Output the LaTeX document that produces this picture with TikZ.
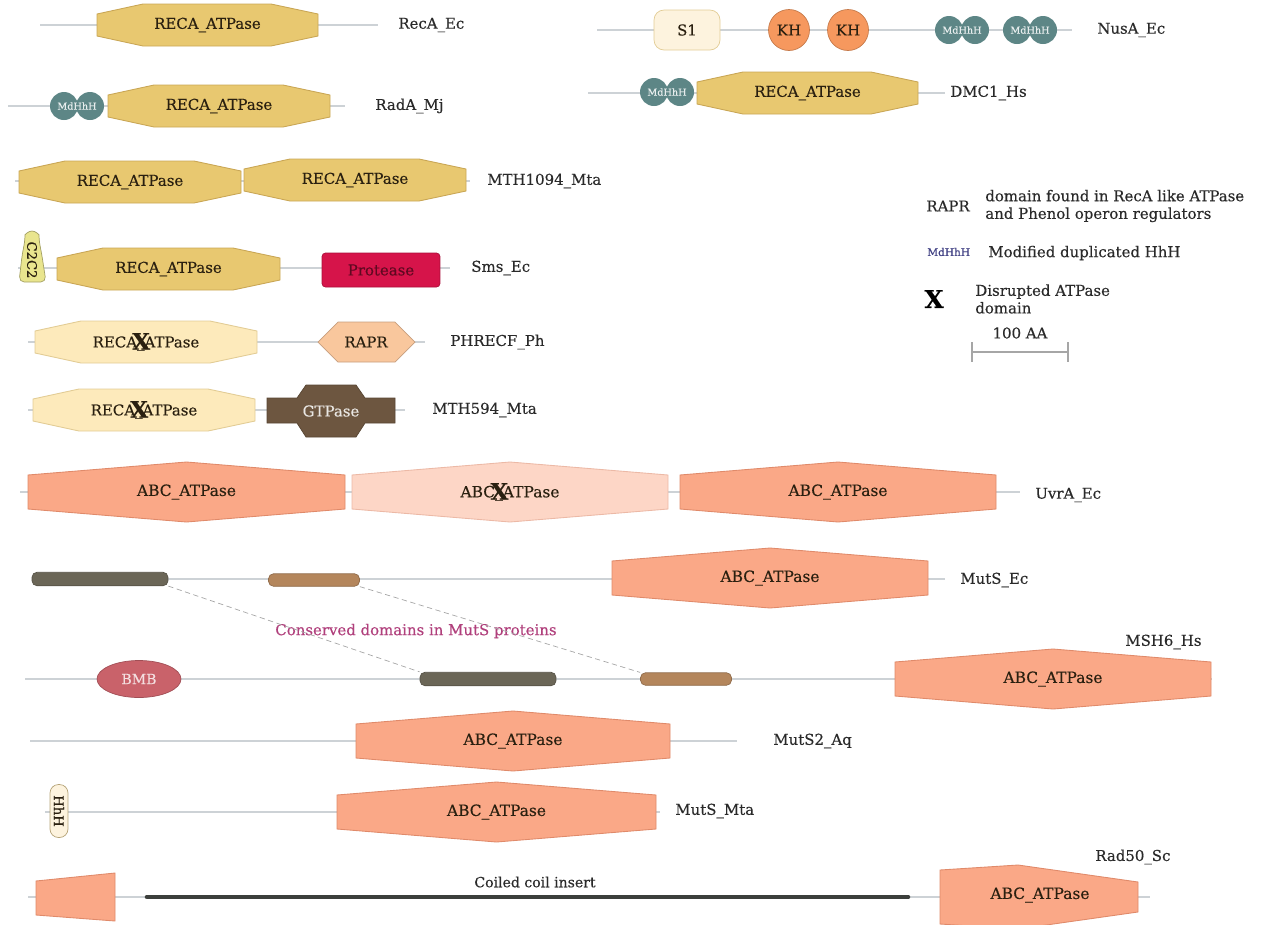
\documentclass[tikz,border=0pt]{standalone}
\usepackage{fontspec}
\setmainfont{DejaVu Serif}[FakeBold=0.35]
\usetikzlibrary{positioning,shapes.geometric}
\definecolor{bbgray}{HTML}{CDD2D6}
\definecolor{txtgray}{HTML}{2A2A2A}
\definecolor{domtext}{HTML}{2A2010}
\definecolor{recafill}{HTML}{E8C870}
\definecolor{recaedge}{HTML}{C9A655}
\definecolor{recalight}{HTML}{FDEABB}
\definecolor{recalightedge}{HTML}{E2CC95}
\definecolor{abcfill}{HTML}{FAA887}
\definecolor{abcedge}{HTML}{E08A6A}
\definecolor{abclight}{HTML}{FDD6C6}
\definecolor{mdteal}{HTML}{5D8686}
\definecolor{khorange}{HTML}{F6985E}
\definecolor{creambox}{HTML}{FDF3DE}
\definecolor{protred}{HTML}{D6144A}
\definecolor{raprfill}{HTML}{F9C79D}
\definecolor{gtpbrown}{HTML}{6D5640}
\definecolor{bardark}{HTML}{6B6657}
\definecolor{bartan}{HTML}{B4865C}
\definecolor{bmbred}{HTML}{C9626A}
\definecolor{c2yellow}{HTML}{E9E58E}
\definecolor{consmag}{HTML}{B0407C}
\definecolor{coildark}{HTML}{3C3F3C}

\tikzset{
  backbone/.style={draw=bbgray, line width=1pt},
  pname/.style={anchor=west, inner sep=0pt, text=txtgray, font=\fontsize{8.5}{10}\selectfont},
  dtext/.style={inner sep=0pt, text=domtext, font=\fontsize{8.5}{10}\selectfont},
  abctext/.style={inner sep=0pt, text=domtext, font=\fontsize{8.8}{10}\selectfont},
  reca/.style={fill=recafill, draw=recaedge, line width=0.5pt},
  recadis/.style={fill=recalight, draw=recalightedge, line width=0.5pt},
  abc/.style={fill=abcfill, draw=abcedge, line width=0.5pt},
  abcdis/.style={fill=abclight, draw=abcedge!60, line width=0.5pt},
  mdtext/.style={inner sep=0pt, text=white!85!mdteal, font=\fontsize{5.5}{6}\selectfont},
  darkbar/.style={fill=bardark, draw=bardark!80!black, rounded corners=0.1cm, minimum height=0.27cm, inner sep=0pt},
  tanbar/.style={fill=bartan, draw=bartan!80!black, rounded corners=0.1cm, minimum height=0.25cm, inner sep=0pt},
  consline/.style={draw=gray!70, densely dashed, line width=0.4pt}
}

% RecA-like octagon: name, x1, x2, y, style, text
\newcommand{\recadom}[6]{%
  \draw[#5] (#2,#4-11) -- (#2+46,#4-21) -- (#3-47,#4-21) -- (#3,#4-11)
    -- (#3,#4+11) -- (#3-47,#4+21) -- (#2+46,#4+21) -- (#2,#4+11) -- cycle;
  \node[dtext] (#1) at ({(#2+#3)/2},#4) {#6};}
% ABC hexagon: name, x1, x2, y, style, text
\newcommand{\abcdom}[6]{%
  \draw[#5] (#2,#4-17) -- ({(#2+#3)/2},#4-30) -- (#3,#4-17)
    -- (#3,#4+17) -- ({(#2+#3)/2},#4+30) -- (#2,#4+17) -- cycle;
  \node[abctext] (#1) at ({(#2+#3)/2},#4) {#6};}
% double circle MdHhH: name, x, y
\newcommand{\mdhhh}[3]{%
  \fill[mdteal] (#2-13,#3) circle[radius=14] (#2+13,#3) circle[radius=14];
  \node[mdtext] (#1) at (#2,#3) {MdHhH};}
% disrupted domain text
\newcommand{\disrupt}[2]{#1\_\llap{\makebox[0.45em][c]{\raisebox{-0.3ex}{\fontsize{13}{13}\selectfont\bfseries X}}}#2}

\begin{document}
\begin{tikzpicture}[x=0.02cm, y=-0.02cm]
\useasboundingbox (0,0) rectangle (1261,924);
\clip (0,0) rectangle (1261,924);

% RecA_Ec
\draw[backbone] (40,25) -- (378,25);
\recadom{recaec}{97}{318}{25}{reca}{RECA\_ATPase}
\node[pname] (lrecaec) at (398,25) {RecA\_Ec};

% RadA_Mj
\draw[backbone] (8,106) -- (345,106);
\mdhhh{radmd}{77}{106}
\recadom{radreca}{108}{330}{106}{reca}{RECA\_ATPase}
\node[pname] (lradamj) at (375,106) {RadA\_Mj};

% MTH1094_Mta
\draw[backbone] (15,181) -- (470,181);
\recadom{mthrecaA}{19}{241}{182}{reca}{RECA\_ATPase}
\recadom{mthrecaB}{244}{466}{180}{reca}{RECA\_ATPase}
\node[pname] (lmth1094) at (487,181) {MTH1094\_Mta};

% Sms_Ec
\draw[backbone] (18,268) -- (450,268);
\filldraw[fill=c2yellow, draw=c2yellow!70!black, line width=0.4pt, rounded corners=3pt]
  (19,282) -- (22,256) -- (25,240) arc[start angle=180, end angle=360, x radius=7, y radius=9] -- (42,256) -- (46,282) -- cycle;
\node[dtext, rotate=-90, font=\fontsize{7.5}{8}\selectfont] (c2c2) at (32,260) {C2C2};
\recadom{smsreca}{57}{280}{269}{reca}{RECA\_ATPase}
\node[fill=protred, draw=protred!80!black, rounded corners=2pt, minimum width=2.36cm, minimum height=0.68cm,
  text=protred!45!black, font=\fontsize{8.5}{10}\selectfont] (protease) at (381,270) {Protease};
\node[pname] (lsmsec) at (471,268) {Sms\_Ec};

% PHRECF_Ph
\draw[backbone] (28,342) -- (425,342);
\recadom{phreca}{35}{257}{342}{recadis}{\disrupt{RECA}{ATPase}}
\draw[fill=raprfill, draw=raprfill!80!black, line width=0.4pt]
  (318,342) -- (338,322) -- (395,322) -- (415,342) -- (395,362) -- (338,362) -- cycle;
\node[dtext] (rapr) at (366,342) {RAPR};
\node[pname] (lphrecf) at (450,342) {PHRECF\_Ph};

% MTH594_Mta
\draw[backbone] (28,410) -- (405,410);
\recadom{mth594reca}{33}{255}{410}{recadis}{\disrupt{RECA}{ATPase}}
\draw[fill=gtpbrown, draw=gtpbrown!80!black, line width=0.4pt]
  (267,398) -- (297,398) -- (306,385) -- (356,385) -- (365,398) -- (395,398)
  -- (395,423) -- (365,423) -- (356,437) -- (306,437) -- (297,423) -- (267,423) -- cycle;
\node[dtext, text=white!85!gtpbrown] (gtpase) at (331,411) {GTPase};
\node[pname] (lmth594) at (432,410) {MTH594\_Mta};

% NusA_Ec
\draw[backbone] (597,30) -- (1072,30);
\node[fill=creambox, draw=recalightedge, rounded corners=0.2cm, minimum width=1.32cm, minimum height=0.8cm,
  text=domtext, font=\fontsize{8.5}{10}\selectfont] (sone) at (687,30) {S1};
\node[circle, fill=khorange, draw=khorange!80!black, minimum size=0.82cm, inner sep=0pt,
  text=domtext, font=\fontsize{8.5}{10}\selectfont] (khA) at (789,30) {KH};
\node[circle, fill=khorange, draw=khorange!80!black, minimum size=0.82cm, inner sep=0pt,
  text=domtext, font=\fontsize{8.5}{10}\selectfont] (khB) at (848,30) {KH};
\mdhhh{nusmdA}{962}{30}
\mdhhh{nusmdB}{1030}{30}
\node[pname] (lnusaec) at (1097,30) {NusA\_Ec};

% DMC1_Hs
\draw[backbone] (588,93) -- (945,93);
\mdhhh{dmcmd}{667}{92}
\recadom{dmcreca}{697}{918}{93}{reca}{RECA\_ATPase}
\node[pname] (ldmc1) at (950,93) {DMC1\_Hs};

% legend
\node[dtext, anchor=west, text=txtgray] (legrapr) at (926,206) {RAPR};
\node[pname, align=left, anchor=west] (legraprtxt) at (985,206) {domain found in RecA like ATPase\\and Phenol operon regulators};
\node[inner sep=0pt, anchor=west, text=blue!35!black!75, font=\fontsize{6}{7}\selectfont] (legmd) at (927,252) {MdHhH};
\node[pname] (legmdtxt) at (988,253) {Modified duplicated HhH};
\node[inner sep=0pt, text=black, font=\fontsize{14}{14}\selectfont\bfseries] (legx) at (934,299) {X};
\node[pname, align=left] (legxtxt) at (975,299) {Disrupted ATPase\\domain};
\node[dtext, text=txtgray] (scaletxt) at (1020,333) {100 AA};
\coordinate (scaleL) at (972,352);
\coordinate (scaleR) at (1068,352);
\draw[gray!70, line width=0.7pt] (scaleL) -- (scaleR);
\draw[gray!70, line width=0.7pt] ([yshift=0.2cm]scaleL) -- ([yshift=-0.2cm]scaleL);
\draw[gray!70, line width=0.7pt] ([yshift=0.2cm]scaleR) -- ([yshift=-0.2cm]scaleR);

% UvrA_Ec
\draw[backbone] (20,492) -- (1020,492);
\abcdom{uvrA}{28}{345}{492}{abc}{ABC\_ATPase}
\abcdom{uvrB}{352}{668}{492}{abcdis}{\disrupt{ABC}{ATPase}}
\abcdom{uvrC}{680}{996}{492}{abc}{ABC\_ATPase}
\node[pname] (luvraec) at (1035,495) {UvrA\_Ec};

% MutS_Ec
\draw[backbone, line width=1.6pt] (32,579) -- (945,579);
\node[darkbar, minimum width=2.72cm] (ecbarA) at (100,579) {};
\node[tanbar, minimum width=1.82cm] (ecbarB) at (314,580) {};
\abcdom{mutsecabc}{612}{928}{578}{abc}{ABC\_ATPase}
\node[pname] (lmutsec) at (960,580) {MutS\_Ec};

% conserved domains
\node[inner sep=0pt, text=consmag, font=\fontsize{8.5}{10}\selectfont] (constxt) at (416,631) {Conserved domains in MutS proteins};

% MSH6_Hs
\draw[backbone, line width=1.6pt] (25,679) -- (1212,679);
\node[ellipse, fill=bmbred, draw=bmbred!80!black, minimum width=1.68cm, minimum height=0.74cm, inner sep=0pt,
  text=white!80!bmbred, font=\fontsize{8}{10}\selectfont] (bmb) at (139,679) {BMB};
\node[darkbar, minimum width=2.72cm] (hsbarA) at (488,679) {};
\node[tanbar, minimum width=1.82cm] (hsbarB) at (686,679) {};
\abcdom{msh6abc}{895}{1211}{679}{abc}{ABC\_ATPase}
\node[pname] (lmsh6) at (1125,642) {MSH6\_Hs};
\draw[consline] (ecbarA.south east) -- (hsbarA.north west);
\draw[consline] (ecbarB.south east) -- (hsbarB.north west);

% MutS2_Aq
\draw[backbone] (30,741) -- (737,741);
\abcdom{muts2abc}{356}{670}{741}{abc}{ABC\_ATPase}
\node[pname] (lmuts2) at (773,741) {MutS2\_Aq};

% MutS_Mta
\draw[backbone] (45,812) -- (660,812);
\node[fill=creambox, draw=recalightedge!80!black, rounded corners=0.17cm, rotate=-90, minimum width=1.06cm,
  minimum height=0.36cm, inner sep=0pt, text=domtext, font=\fontsize{7.5}{8}\selectfont] (hhh) at (59,811) {HhH};
\abcdom{mutsmtaabc}{337}{656}{812}{abc}{ABC\_ATPase}
\node[pname] (lmutsmta) at (675,811) {MutS\_Mta};

% Rad50_Sc
\draw[backbone] (28,897) -- (1150,897);
\draw[abc] (36,881) -- (115,873) -- (115,921) -- (36,915) -- cycle;
\draw[coildark, line width=2.6pt, line cap=round] (147,897) -- (908,897);
\node[inner sep=0pt, text=txtgray, font=\fontsize{8}{10}\selectfont] (coiltxt) at (535,882) {Coiled coil insert};
\draw[abc] (940,870) -- (1018,865) -- (1138,882) -- (1138,912) -- (1018,929) -- (940,924) -- cycle;
\node[abctext] (rad50abc) at (1040,895) {ABC\_ATPase};
\node[pname] (lrad50) at (1095,857) {Rad50\_Sc};
\end{tikzpicture}
\end{document}
